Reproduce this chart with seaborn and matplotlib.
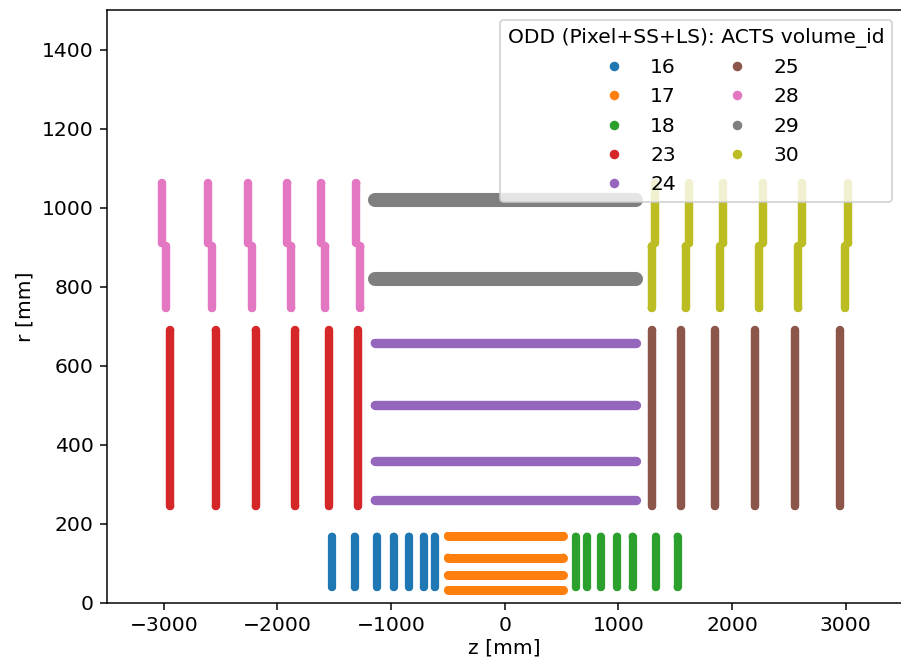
import matplotlib
matplotlib.use("Agg")
import matplotlib.pyplot as plt
import seaborn as sns
import pandas as pd

# ---- data ----
volume_ids = ["16", "17", "18", "23", "24", "25", "28", "29", "30"]

# endcap disks: z position, r range
vol16_disk_z = [-1520, -1320, -1124, -977, -842, -713, -616]
vol18_disk_z = [625, 725, 845, 989, 1124, 1329, 1520]
pixel_disk_r = [40, 168]

vol23_disk_z = [-2943, -2544, -2192, -1843, -1547, -1292]
vol25_disk_z = [1297, 1549, 1849, 2201, 2553, 2949]
short_strip_disk_r = [245, 690]

vol28_outer_ring_z = [-3017, -2612, -2260, -1913, -1614, -1305]
vol28_inner_ring_z = [-2982, -2577, -2225, -1878, -1579, -1270]
vol30_outer_ring_z = [1320, 1622, 1922, 2268, 2612, 3022]
vol30_inner_ring_z = [1291, 1591, 1893, 2239, 2583, 2993]
long_strip_outer_ring_r = [910, 1062]
long_strip_inner_ring_r = [746, 902]

# barrel layers: r position, z range
vol17_barrel_r = [33, 70, 115, 170]
vol17_barrel_z = [-500, 515]
vol24_barrel_r = [260, 358, 500, 658]
vol24_barrel_z = [-1145, 1150]
vol29_barrel_r = [820, 1020]
vol29_barrel_z = [-1140, 1155]

# ---- build segment table ----
rows = []
def add_disks(vol, zs, rr):
    for z in zs:
        rows.append((vol, z, z, rr[0], rr[1]))
def add_barrels(vol, rs, zz):
    for r in rs:
        rows.append((vol, zz[0], zz[1], r, r))

add_disks("16", vol16_disk_z, pixel_disk_r)
add_barrels("17", vol17_barrel_r, vol17_barrel_z)
add_disks("18", vol18_disk_z, pixel_disk_r)
add_disks("23", vol23_disk_z, short_strip_disk_r)
add_barrels("24", vol24_barrel_r, vol24_barrel_z)
add_disks("25", vol25_disk_z, short_strip_disk_r)
add_disks("28", vol28_outer_ring_z, long_strip_outer_ring_r)
add_disks("28", vol28_inner_ring_z, long_strip_inner_ring_r)
add_barrels("29", vol29_barrel_r, vol29_barrel_z)
add_disks("30", vol30_outer_ring_z, long_strip_outer_ring_r)
add_disks("30", vol30_inner_ring_z, long_strip_inner_ring_r)

seg = pd.DataFrame(rows, columns=["volume_id", "z0", "z1", "r0", "r1"])
pts = pd.concat([
    seg[["volume_id", "z0", "r0"]].rename(columns={"z0": "z", "r0": "r"}),
    seg[["volume_id", "z1", "r1"]].rename(columns={"z1": "z", "r1": "r"}),
], ignore_index=True)

palette = dict(zip(volume_ids, sns.color_palette("tab10", len(volume_ids))))
# visual thickness of each volume's hit band (points)
band_width = {"16": 4.4, "17": 4.8, "18": 4.4, "23": 4.5, "24": 5.0,
              "25": 4.5, "28": 4.5, "29": 7.5, "30": 4.5}

plt.rcParams["font.size"] = 10.8

DPI = 135
fig = plt.figure(figsize=(901 / DPI, 668 / DPI), dpi=DPI)
ax = fig.add_axes([107 / 901, 65 / 668, 795.6 / 901, 593 / 668])

# hit end points (give the legend its dots), hidden under the bands
sns.scatterplot(data=pts, x="z", y="r", hue="volume_id", hue_order=volume_ids,
                palette=palette, s=18, linewidth=0, ax=ax, zorder=1)

for _, s in seg.iterrows():
    ax.plot([s.z0, s.z1], [s.r0, s.r1], color=palette[s.volume_id],
            lw=band_width[s.volume_id], solid_capstyle="round", zorder=2)

ax.set_xlim(-3500, 3500)
ax.set_ylim(0, 1500)
ax.set_xlabel("z [mm]", labelpad=2)
ax.set_ylabel("r [mm]")
sns.move_legend(ax, "upper right", ncol=2, markerscale=1.2,
                title="ODD (Pixel+SS+LS): ACTS volume_id")

fig.savefig("out.png", dpi=DPI)
